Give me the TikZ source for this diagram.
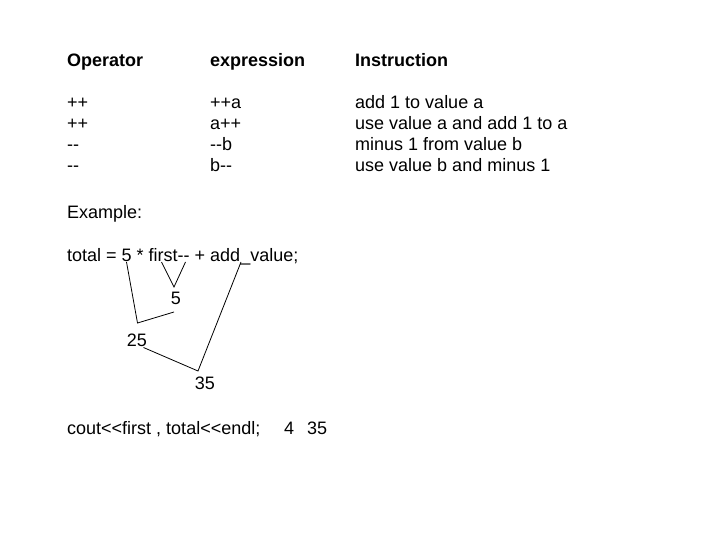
\documentclass[tikz,border=0pt]{standalone}
\usepackage{fontspec}
\setmainfont{Liberation Sans}
\begin{document}
\begin{tikzpicture}[x=1pt,y=-1pt,
  txt/.style={anchor=base west,inner sep=0pt,font=\fontsize{18}{18}\selectfont},
  hd/.style={txt,font=\fontsize{18}{18}\selectfont\bfseries},
  num/.style={anchor=base,inner sep=0pt,font=\fontsize{18}{18}\selectfont}]
\useasboundingbox (0,0) rectangle (720,540);
% table
\node[hd] (hop) at (67,66.5) {Operator};
\node[hd] (hex) at (210,66.5) {expression};
\node[hd] (hin) at (355,66.5) {Instruction};
\node[txt] (op1) at (67,108.5) {++};
\node[txt] (op2) at (67,129.5) {++};
\node[txt] (op3) at (67,150.5) {-{}-};
\node[txt] (op4) at (67,171.5) {-{}-};
\node[txt] (ex1) at (210,108.5) {++a};
\node[txt] (ex2) at (210,129.5) {a++};
\node[txt] (ex3) at (210,150.5) {-{}-b};
\node[txt] (ex4) at (210,171.5) {b-{}-};
\node[txt] (in1) at (355,108.5) {add 1 to value a};
\node[txt] (in2) at (355,129.5) {use value a and add 1 to a};
\node[txt] (in3) at (355,150.5) {minus 1 from value b};
\node[txt] (in4) at (355,171.5) {use value b and minus 1};
% example
\node[txt] (exmp) at (67,218.5) {Example:};
\node[txt] (total) at (67,261) {total = 5 * first-{}- + add\_value;};
\node[num] (r5) at (176,304.5) {5};
\node[num] (r25) at (137,346.5) {25};
\node[num] (r35) at (205,389.5) {35};
\coordinate (five) at (126.5,262);
\coordinate (fl) at (161.5,262);
\coordinate (fr) at (185.5,262);
\coordinate (addv) at (241,262);
\coordinate (vtip) at (174,287);
\coordinate (k1) at (137.5,323);
\coordinate (k2) at (174,312);
\coordinate (k3) at (143.5,347.5);
\coordinate (k4) at (198,371);
\draw[line width=0.8pt] (fl) -- (vtip) -- (fr);
\draw[line width=0.8pt] (five) -- (k1) -- (k2);
\draw[line width=0.8pt] (k3) -- (k4) -- (addv);
% output
\node[txt] (cout) at (67,434.5) {cout<{}<first , total<{}<endl;};
\node[txt] (outv) at (284,434.5) {4\hspace{13pt}35};
\end{tikzpicture}
\end{document}
